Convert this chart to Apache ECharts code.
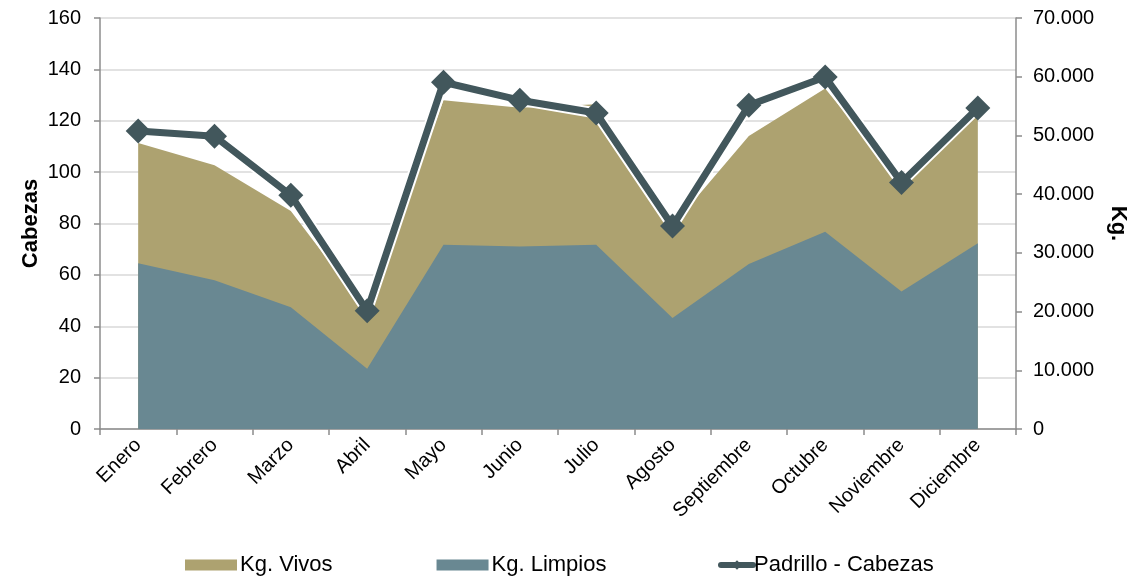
<!DOCTYPE html>
<html>
<head>
<meta charset="utf-8">
<script src="https://cdn.jsdelivr.net/npm/echarts@6/dist/echarts.min.js"></script>
<style>html,body{margin:0;padding:0;background:#fff}#c{width:1137px;height:586px}</style>
</head>
<body>
<div id="c"></div>
<script>
const categories = ['Enero','Febrero','Marzo','Abril','Mayo','Junio','Julio','Agosto','Septiembre','Octubre','Noviembre','Diciembre'];
const kgVivos = [48700, 44900, 37150, 20000, 56000, 54700, 55300, 34600, 49900, 58000, 42000, 54600];
const kgLimpios = [28250, 25350, 20750, 10250, 31400, 31100, 31400, 18900, 28100, 33600, 23400, 31650];
const padrilloCabezas = [116, 114, 91, 46, 135, 128, 123, 79, 126, 137, 96, 125];
const leftTicks = {min: 0, max: 160, interval: 20};
const rightTicks = {min: 0, max: 70000, interval: 10000};

const FONT = '"Liberation Sans", Arial, sans-serif';
const axisLineColor = '#8c8c8c';
const cTan = '#ada270', cBlue = '#698892', cLine = '#42575c';
const chart = echarts.init(document.getElementById('c'));
chart.setOption({
  animation: false,
  textStyle: {fontFamily: FONT, color: '#000'},
  grid: {left: 100, right: 121, top: 18, bottom: 157},
  legend: [
    {
      data: [{name: 'Kg. Vivos', icon: 'rect'}, {name: 'Kg. Limpios', icon: 'rect'}],
      left: 180, top: 549, itemWidth: 52, itemHeight: 11, itemGap: 104,
      textStyle: {fontFamily: FONT, fontSize: 22, color: '#000', padding: [0, 0, 0, -2]}
    },
    {
      data: [{name: 'Padrillo - Cabezas'}],
      left: 713, top: 549, itemWidth: 32, itemHeight: 12,
      lineStyle: {width: 6, cap: 'round'},
      textStyle: {fontFamily: FONT, fontSize: 22, color: '#000', padding: [0, 0, 0, -4]}
    }
  ],
  xAxis: {
    type: 'category', data: categories, boundaryGap: true,
    axisLine: {lineStyle: {color: axisLineColor, width: 1.5}},
    axisTick: {show: true, length: 6, lineStyle: {color: axisLineColor, width: 1.5}},
    axisLabel: {rotate: 45, fontSize: 20, color: '#000', margin: 13, fontFamily: FONT}
  },
  yAxis: [
    {
      type: 'value', min: leftTicks.min, max: leftTicks.max, interval: leftTicks.interval,
      name: 'Cabezas', nameLocation: 'middle', nameRotate: 90, nameGap: 58, nameMoveOverlap: false,
      nameTextStyle: {fontWeight: 'bold', fontSize: 22, color: '#000', fontFamily: FONT},
      axisLine: {show: true, lineStyle: {color: axisLineColor, width: 1.5}},
      axisTick: {show: true, length: 6, lineStyle: {color: axisLineColor, width: 1.5}},
      axisLabel: {fontSize: 20, color: '#000', margin: 19, fontFamily: FONT},
      splitLine: {lineStyle: {color: '#d9d9d9', width: 1.5}}
    },
    {
      type: 'value', min: rightTicks.min, max: rightTicks.max, interval: rightTicks.interval,
      name: 'Kg.', nameLocation: 'middle', nameRotate: -90, nameGap: 91,
      nameTextStyle: {fontWeight: 'bold', fontSize: 22, color: '#000', fontFamily: FONT},
      axisLine: {show: true, lineStyle: {color: axisLineColor, width: 1.5}},
      axisTick: {show: true, length: 6, lineStyle: {color: axisLineColor, width: 1.5}},
      axisLabel: {fontSize: 20, color: '#000', margin: 17, fontFamily: FONT,
        formatter: v => String(v).replace(/\B(?=(\d{3})+(?!\d))/g, '.')},
      splitLine: {show: false}
    }
  ],
  series: [
    {
      name: 'Kg. Vivos', type: 'line', yAxisIndex: 1, data: kgVivos,
      showSymbol: false, lineStyle: {width: 0, opacity: 0},
      itemStyle: {color: cTan}, areaStyle: {color: cTan, opacity: 1}, z: 1
    },
    {
      name: 'Kg. Limpios', type: 'line', yAxisIndex: 1, data: kgLimpios,
      showSymbol: false, lineStyle: {width: 0, opacity: 0},
      itemStyle: {color: cBlue}, areaStyle: {color: cBlue, opacity: 1}, z: 2
    },
    {
      type: 'line', yAxisIndex: 0, data: padrilloCabezas, silent: true,
      showSymbol: false, lineStyle: {width: 11, color: '#ffffff'}, itemStyle: {color: '#fff'}, z: 3
    },
    {
      name: 'Padrillo - Cabezas', type: 'line', yAxisIndex: 0, data: padrilloCabezas,
      symbol: 'diamond', symbolSize: 25, showAllSymbol: true,
      lineStyle: {width: 7, color: cLine},
      itemStyle: {color: cLine}, z: 4
    }
  ]
});
</script>
</body>
</html>
